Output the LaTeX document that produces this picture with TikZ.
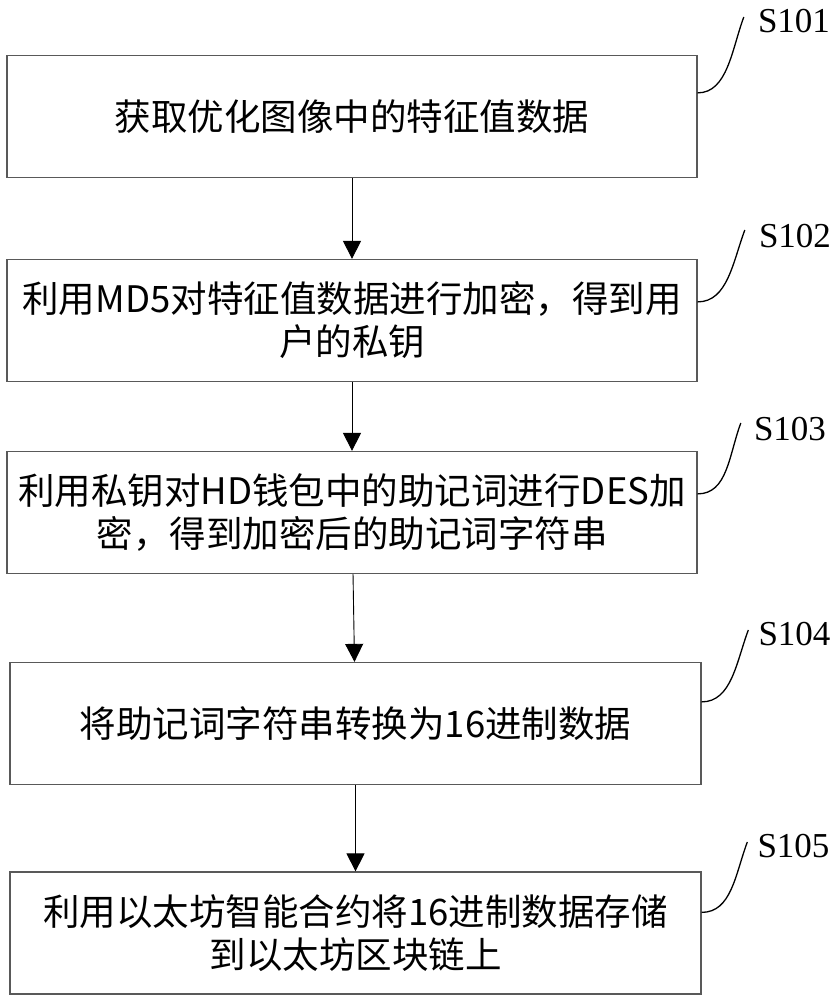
\documentclass[tikz,border=0pt]{standalone}
\usepackage{fontspec}
\setmainfont{Liberation Serif}
\newfontfamily\cjk{Noto Sans CJK SC}
\usetikzlibrary{arrows.meta}

\begin{document}
\begin{tikzpicture}
		[x=1pt,y=1pt,
		stepbox/.style={rectangle,draw=black!65,line width=1.2pt,inner sep=0pt,
minimum width=690pt,minimum height=122pt,align=center,
font=\cjk\fontsize{36.5}{43}\selectfont},
		steplabel/.style={inner sep=0pt,font=\fontsize{35}{40}\selectfont},
		flowin/.style={{Triangle[length=18pt,width=18pt]}-,line width=0.9pt},
		leader/.style={line width=1.3pt}]
		\useasboundingbox (0,0) rectangle (837,1000);
		\node at (352, 883.5) (b1) [stepbox] {获取优化图像中的特征值数据};
		\node at (352, 679.5) (b2) [stepbox] {利用MD5对特征值数据进行加密，得到用\\户的私钥}
			edge [flowin] (b1);
		\node at (352, 487.5) (b3) [stepbox] {利用私钥对HD钱包中的助记词进行DES加\\密，得到加密后的助记词字符串}
			edge [flowin] (b2);
		\node at (355.5, 276.5) (b4) [stepbox,minimum width=691pt] {将助记词字符串转换为16进制数据}
			edge [flowin] (b3);
		\node at (355.5, 67) (b5) [stepbox,minimum width=691pt] {利用以太坊智能合约将16进制数据存储\\到以太坊区块链上}
			edge [flowin] (b4);
		\node at (794, 979) (l1) [steplabel] {S101};
		\node at (795, 764) (l2) [steplabel] {S102};
		\node at (790, 571) (l3) [steplabel] {S103};
		\node at (794.5, 366) (l4) [steplabel] {S104};
		\node at (793.5, 154) (l5) [steplabel] {S105};
		\draw [leader] ([yshift=-38pt]b1.north east) .. controls +(30,0) and +(-12,-32) .. ([shift={(-14,4)}]l1.west);
		\draw [leader] ([yshift=-43pt]b2.north east) .. controls +(30,0) and +(-12,-32) .. ([shift={(-14,6)}]l2.west);
		\draw [leader] ([yshift=-43pt]b3.north east) .. controls +(30,0) and +(-12,-32) .. ([shift={(-13,6)}]l3.west);
		\draw [leader] ([yshift=-40pt]b4.north east) .. controls +(30,0) and +(-12,-32) .. ([shift={(-10,4)}]l4.west);
		\draw [leader] ([yshift=-41pt]b5.north east) .. controls +(30,0) and +(-12,-32) .. ([shift={(-10,4)}]l5.west);
	\end{tikzpicture}
\end{document}
